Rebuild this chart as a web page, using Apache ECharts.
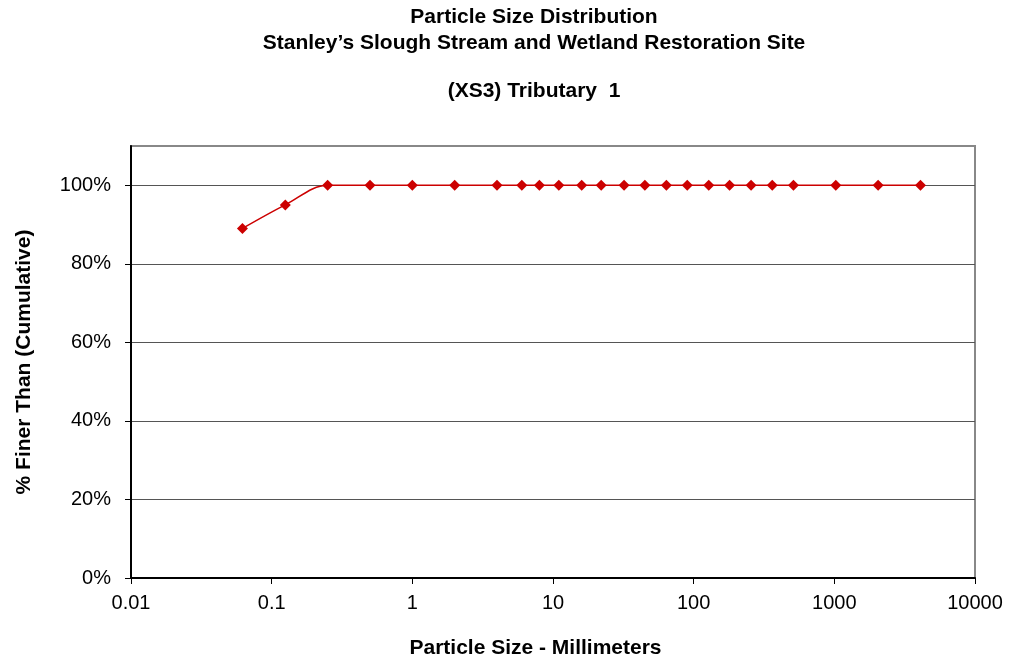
<!DOCTYPE html>
<html>
<head>
<meta charset="utf-8">
<script src="https://cdn.jsdelivr.net/npm/echarts@6/dist/echarts.min.js"></script>
<style>html,body{margin:0;padding:0;background:#fff;}#c{width:1015px;height:665px;}</style>
</head>
<body>
<div id="c"></div>
<script>
const titleLines = ["Particle Size Distribution", "Stanley\u2019s Slough Stream and Wetland Restoration Site", "(XS3) Tributary  1"];
const xAxisName = "Particle Size - Millimeters";
const yAxisName = "% Finer Than (Cumulative)";
const particleSizes = [0.062, 0.125, 0.25, 0.5, 1, 2, 4, 6, 8, 11, 16, 22, 32, 45, 64, 90, 128, 180, 256, 362, 512, 1024, 2048, 4096];
const percentFiner = [89, 95, 100, 100, 100, 100, 100, 100, 100, 100, 100, 100, 100, 100, 100, 100, 100, 100, 100, 100, 100, 100, 100, 100];
const yTicks = [0, 20, 40, 60, 80, 100];

const font = "'Liberation Sans', Arial, sans-serif";
const titleStyle = {fontFamily: font, fontSize: 21, fontWeight: 'bold', color: '#000'};
const chart = echarts.init(document.getElementById('c'), null, {renderer: 'canvas'});
chart.setOption({
  animation: false,
  backgroundColor: '#fff',
  title: [
    {text: titleLines[0], left: 534, textAlign: 'center', top: 7, padding: 0, textStyle: titleStyle},
    {text: titleLines[1], left: 534, textAlign: 'center', top: 33, padding: 0, textStyle: titleStyle},
    {text: titleLines[2], left: 534, textAlign: 'center', top: 81, padding: 0, textStyle: titleStyle}
  ],
  grid: {left: 131, right: 40, top: 146, bottom: 87, show: true, borderColor: '#888', borderWidth: 2, backgroundColor: 'transparent'},
  xAxis: {
    type: 'log', logBase: 10, min: 0.01, max: 10000,
    name: xAxisName, nameLocation: 'middle', nameGap: 60,
    nameTextStyle: {fontFamily: font, fontSize: 21, fontWeight: 'bold', color: '#000', padding: [0, 35, 0, 0]},
    axisLine: {show: true, onZero: false, lineStyle: {color: '#000', width: 2}},
    axisTick: {show: true, inside: false, length: 6, lineStyle: {color: '#000', width: 1}},
    minorTick: {show: false},
    splitLine: {show: false},
    axisLabel: {fontFamily: font, fontSize: 20, color: '#000', margin: 15,
      formatter: function (v) { return String(Number(v.toPrecision(6))); }}
  },
  yAxis: {
    type: 'value', min: 0, max: 110, interval: 20,
    name: yAxisName, nameLocation: 'middle', nameGap: 96, nameRotate: 90,
    nameTextStyle: {fontFamily: font, fontSize: 21, fontWeight: 'bold', color: '#000'},
    axisLine: {show: true, lineStyle: {color: '#000', width: 2}},
    axisTick: {show: true, length: 6, lineStyle: {color: '#000', width: 1}, customValues: yTicks},
    splitLine: {show: true, lineStyle: {color: '#555', width: 1}},
    axisLabel: {fontFamily: font, fontSize: 20, color: '#000', margin: 20, customValues: yTicks,
      formatter: function (v) { return v + '%'; }}
  },
  series: [{
    type: 'line',
    data: particleSizes.map((x, i) => [x, percentFiner[i]]),
    smooth: 0.35,
    symbol: 'diamond',
    symbolSize: 11,
    itemStyle: {color: '#CC0000'},
    lineStyle: {color: '#CC0000', width: 1.5},
    z: 5
  }]
});
</script>
</body>
</html>
